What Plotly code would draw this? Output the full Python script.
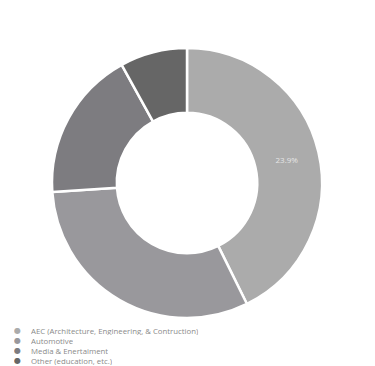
import plotly.graph_objects as go

categories = ["AEC (Architecture, Engineering, & Contruction)", "Automotive",
              "Media & Enertaiment", "Other (education, etc.)"]
values = [23.9, 17.5, 10.1, 4.5]
colors = ["#ababab", "#99989c", "#7d7c80", "#666666"]
shown_labels = [True, False, False, False]

W, H = 375, 366
cx, cy, R = 187, 183, 135

text = [f"{v}%" if s else "" for v, s in zip(values, shown_labels)]

fig = go.Figure(go.Pie(
    labels=categories, values=values, text=text, textinfo="text",
    hole=0.52, sort=False, direction="clockwise", rotation=0,
    marker=dict(colors=colors, line=dict(color="white", width=2.5)),
    textfont=dict(family="Open Sans", size=8, color="#e6e6e6"),
    insidetextorientation="horizontal",
    domain=dict(x=[(cx - R) / W, (cx + R) / W], y=[(H - cy - R) / H, (H - cy + R) / H]),
    showlegend=False, hoverinfo="label+percent",
))

annotations = []
y0 = 330.2
step = 10
for i, (lab, col) in enumerate(zip(categories, colors)):
    yy = y0 + i * step
    annotations.append(dict(x=17 / W, y=1 - yy / H, xref="paper", yref="paper",
                            text="●", showarrow=False, xanchor="center", yanchor="middle",
                            height=8, font=dict(family="DejaVu Sans", size=8, color=col)))
    annotations.append(dict(x=30 / W, y=1 - yy / H, xref="paper", yref="paper",
                            text=lab, showarrow=False, xanchor="left", yanchor="middle",
                            height=9, borderpad=0,
                            font=dict(family="Open Sans", size=7.8, color="#8a8a8a")))

fig.update_layout(width=W, height=H, margin=dict(l=0, r=0, t=0, b=0),
                  paper_bgcolor="white", plot_bgcolor="white",
                  annotations=annotations)
fig.write_html("out.html", config={"displayModeBar": False},
               post_script="document.body.style.margin='0';document.body.style.overflow='hidden';")
